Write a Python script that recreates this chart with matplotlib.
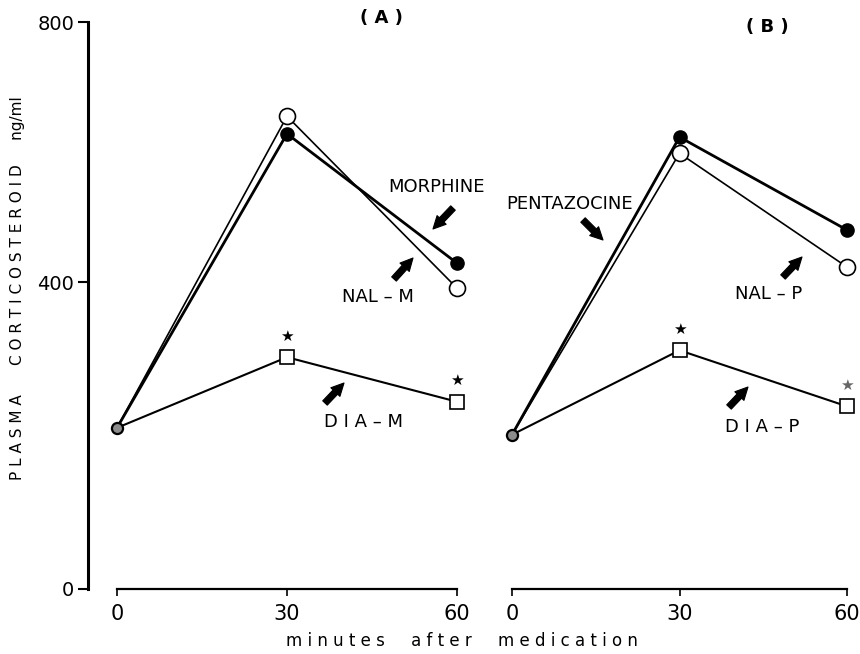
import numpy as np
import matplotlib
matplotlib.use("Agg")
import matplotlib.pyplot as plt
from matplotlib.scale import FuncScale

# ---------------- data ----------------
minutes = [0, 30, 60]
xtick_labels = ["0", "30", "60"]
ytick_values = [0, 400, 800]
ytick_labels = ["0", "400", "800"]

morphine = [210, 628, 429]        # filled circles, panel A
nal_m = [210, 655, 392]           # open circles, panel A
dia_m = [210, 302, 244]           # open squares, panel A
pentazocine = [201, 623, 480]     # filled circles, panel B
nal_p = [201, 598, 423]           # open circles, panel B
dia_p = [201, 311, 238]           # open squares, panel B
star_a = [False, True, True]
star_b = [False, True, True]

panel_titles = ["( A )", "( B )"]
ylabel = "P L A S M A      C O R T I C O S T E R O I D     ng/ml"
xlabel = "m i n u t e s     a f t e r     m e d i c a t i o n"

FONT = "DejaVu Sans"

# piecewise-linear y axis, as drawn in the original (lower half more stretched)
LOW, HIGH = 307.0, 260.0
def fwd(v):
    v = np.asarray(v, dtype=float)
    return np.where(v <= 400, v * LOW / 400, LOW + (v - 400) * HIGH / 400)
def inv(d):
    d = np.asarray(d, dtype=float)
    return np.where(d <= LOW, d * 400 / LOW, 400 + (d - LOW) * 400 / HIGH)

W, H = 860, 654
fig = plt.figure(figsize=(W / 100, H / 100), dpi=100)
fig.patch.set_facecolor("white")

def fx(px):
    return px / W
def fy(py):
    return 1 - py / H

top_px, bot_px = 22, 589
axA = fig.add_axes([fx(88), fy(bot_px), (457 - 88) / W, (bot_px - top_px) / H])
axB = fig.add_axes([fx(512), fy(bot_px), (847 - 512) / W, (bot_px - top_px) / H])

x0A = -(117 - 88) / ((457 - 117) / 60)
axA.set_xlim(x0A, 60)
axB.set_xlim(0, 60)

for ax in (axA, axB):
    ax.set_yscale(FuncScale(ax, (fwd, inv)))
    ax.set_ylim(0, 800)
    ax.set_facecolor("none")
    for s in ("top", "right"):
        ax.spines[s].set_visible(False)
    ax.spines["bottom"].set_bounds(0, 60)
    ax.spines["bottom"].set_linewidth(1.6)
    ax.set_xticks(minutes)
    ax.set_xticklabels(xtick_labels, fontsize=15)
    ax.tick_params(axis="x", direction="out", length=5, width=1.2, pad=6)

axA.spines["left"].set_linewidth(2.2)
axA.set_yticks(ytick_values)
axA.set_yticklabels(ytick_labels, fontsize=14)
axA.tick_params(axis="y", direction="out", length=7, width=1.5, pad=3)
axB.spines["left"].set_visible(False)
axB.set_yticks([])

def draw_panel(ax, filled, opened, squares, stars, star_colors):
    ax.plot(minutes, filled, color="black", lw=2.0, marker="o", ms=9.5,
            mfc="black", mec="black", markevery=[1, 2], clip_on=False, zorder=4)
    ax.plot(minutes, opened, color="black", lw=1.2, marker="o", ms=11.5,
            mfc="white", mec="black", mew=1.2, markevery=[1, 2], clip_on=False, zorder=5)
    ax.plot(minutes, squares, color="black", lw=1.5, marker="s", ms=10.5,
            mfc="white", mec="black", mew=1.2, markevery=[1, 2], clip_on=False, zorder=5)
    ax.plot(minutes[0], filled[0], marker="o", ms=8, mfc="0.55", mec="black",
            mew=1.6, clip_on=False, zorder=6)
    for xm, ym, st, sc in zip(minutes, squares, stars, star_colors):
        if st:
            ax.annotate("★", (xm, ym), xytext=(0, 15), textcoords="offset points",
                        ha="center", va="center", fontsize=11, color=sc)

draw_panel(axA, morphine, nal_m, dia_m, star_a, ["black", "black", "black"])
draw_panel(axB, pentazocine, nal_p, dia_p, star_b, ["black", "black", "0.4"])

# ---------------- labels ----------------
def label(px, py, s, size=13, **kw):
    fig.text(fx(px), fy(py), s, ha="center", va="center", family=FONT,
             fontsize=size, **kw)

label(381, 18, panel_titles[0], fontweight="bold")
label(767, 27, panel_titles[1], fontweight="bold")
label(437, 187, "MORPHINE")
label(378, 297, "NAL – M")
label(364, 422, "D I A – M")
label(570, 204, "PENTAZOCINE")
label(769, 294, "NAL – P")
label(762, 427, "D I A – P")

def arrow(tail, head):
    axA.annotate("", xy=(head[0], H - head[1]), xytext=(tail[0], H - tail[1]),
                 xycoords="figure pixels", textcoords="figure pixels",
                 arrowprops=dict(arrowstyle="simple,head_length=0.9,head_width=0.9,tail_width=0.45",
                                 fc="black", ec="black", lw=0.8, shrinkA=0, shrinkB=0),
                 annotation_clip=False)

arrow((453, 208), (433, 229))   # MORPHINE
arrow((394, 279), (413, 258))   # NAL-M
arrow((325, 403), (344, 383))   # DIA-M
arrow((583, 220), (603, 240))   # PENTAZOCINE
arrow((783, 277), (802, 257))   # NAL-P
arrow((729, 407), (748, 387))   # DIA-P

fig.text(fx(18), fy(288), ylabel, rotation=90, ha="center", va="center",
         family=FONT, fontsize=11)
fig.text(fx(462), fy(641), xlabel, ha="center", va="center",
         family=FONT, fontsize=12)

fig.savefig("out.png", dpi=100, facecolor="white")
